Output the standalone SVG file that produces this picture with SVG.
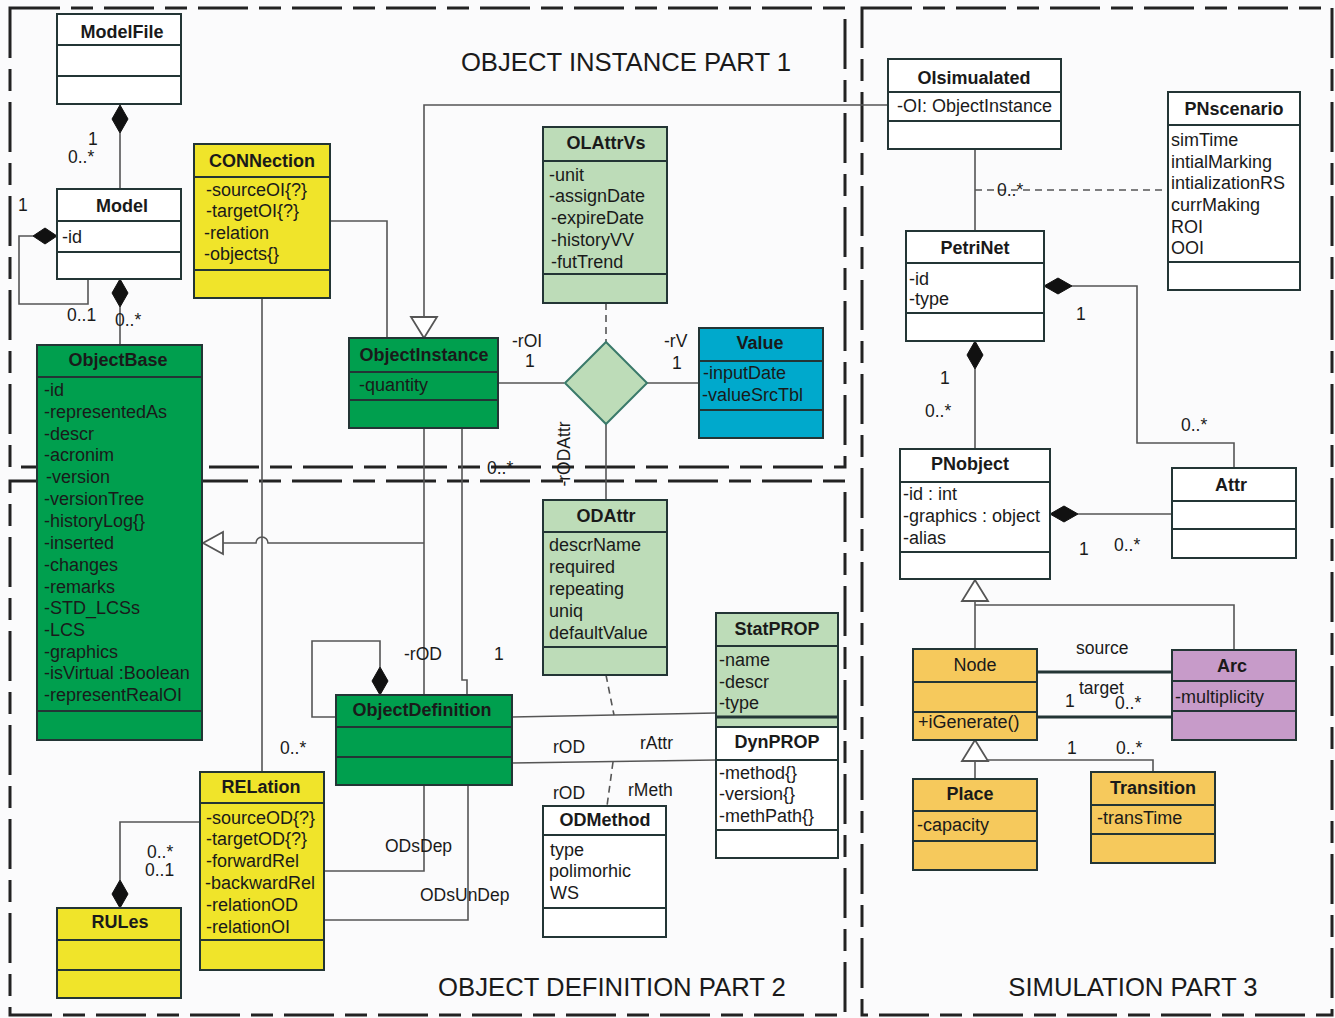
<svg xmlns="http://www.w3.org/2000/svg" width="1335" height="1018" viewBox="0 0 1335 1018">
<style>
text{font-family:"Liberation Sans",Arial,sans-serif;fill:#1a1a1a}
.h{font-size:18px;font-weight:bold;text-anchor:middle}
.hn{font-size:18px;text-anchor:middle}
.a{font-size:18px}
.l{font-size:17.5px}
.t{font-size:25.7px;text-anchor:middle}
.box{stroke:#233535;stroke-width:2}
.sep{stroke:#233535;stroke-width:2}
.c{fill:none;stroke:#555;stroke-width:1.6}
.d{fill:none;stroke:#555;stroke-width:1.6;stroke-dasharray:7 5}
.fr{fill:none;stroke:#222;stroke-width:3;stroke-dasharray:50 11 22 11}
.dia{fill:#111;stroke:#111;stroke-width:1}
.tri{fill:#fff;stroke:#555;stroke-width:1.8}
.w{fill:#fff}.dg{fill:#009f4e}.lg{fill:#bddcb8}.y{fill:#f0e42a}.cy{fill:#00a9cc}.o{fill:#f6c95c}.p{fill:#c79bc9}
</style>
<rect width="1335" height="1018" fill="#fbfbfc"/>
<g id="frames">
<rect class="fr" x="10" y="8" width="835" height="459"/>
<rect class="fr" x="10" y="481" width="835" height="534"/>
<rect class="fr" x="862" y="8" width="470" height="1007"/>
<text class="t" x="626" y="71">OBJECT INSTANCE PART 1</text>
<text class="t" x="612" y="996">OBJECT DEFINITION PART 2</text>
<text class="t" x="1133" y="996">SIMULATION PART 3</text>
</g>
<g id="connectors">
<path class="c" d="M120 133V189"/>
<path class="dia" d="M120 105l8 14l-8 14l-8 -14z"/>
<path class="c" d="M33 236H19V304H88V279"/>
<path class="dia" d="M57 236l-12 -8l-12 8l12 8z"/>
<path class="c" d="M120 307V345"/>
<path class="dia" d="M120 279l8 14l-8 14l-8 -14z"/>
<path class="c" d="M330 221H387V338"/>
<path class="c" d="M262 298V772"/>
<path class="c" d="M424 543H268A6 6 0 0 0 256 543H223"/>
<path class="tri" d="M203 543L223 532L223 554z"/>
<path class="c" d="M424 428V695"/>
<path class="c" d="M462 428V680H467V695"/>
<path class="c" d="M424 317V105H888"/>
<path class="tri" d="M424 338L411 317L437 317z"/>
<path class="c" d="M498 383H564"/>
<path class="c" d="M647 383H699"/>
<path class="c" d="M606 424V500"/>
<path class="d" d="M606 303V342"/>
<path d="M606 342L647 383L606 424L565 383z" fill="#bddcb8" stroke="#3a7a6a" stroke-width="2"/>
<path class="c" d="M380 667V641H312V717H336"/>
<path class="dia" d="M380 667l8 14l-8 14l-8 -14z"/>
<path class="c" d="M512 717L716 713"/>
<path class="d" d="M606 675L614 715"/>
<path class="c" d="M512 763L716 760"/>
<path class="d" d="M613 762L607 806"/>
<path class="c" d="M324 871H424V785"/>
<path class="c" d="M324 920H468V785"/>
<path class="c" d="M200 822H120V880"/>
<path class="dia" d="M120 880l8 14l-8 14l-8 -14z"/>
<path class="c" d="M975 149V231"/>
<path class="d" d="M975 190H1168"/>
<path class="c" d="M1072 286H1137V443H1234V468"/>
<path class="dia" d="M1044 286l14 -8l14 8l-14 8z"/>
<path class="c" d="M975 369V449"/>
<path class="dia" d="M975 341l8 14l-8 14l-8 -14z"/>
<path class="c" d="M1078 514H1172"/>
<path class="dia" d="M1050 514l14 -8l14 8l-14 8z"/>
<path class="c" d="M975 601V649M975 605H1234V650"/>
<path class="tri" d="M975 580L962 601L988 601z"/>
<path d="M1037 672H1172M1037 717H1172" fill="none" stroke="#233535" stroke-width="3"/>
<path class="c" d="M975 760V779M975 760H1153V772"/>
<path class="tri" d="M975 740L962 761L988 761z"/>
<text class="l" x="88" y="145">1</text>
<text class="l" x="68" y="163">0..*</text>
<text class="l" x="18" y="211">1</text>
<text class="l" x="67" y="321">0..1</text>
<text class="l" x="115" y="326">0..*</text>
<text class="l" x="512" y="347">-rOI</text>
<text class="l" x="525" y="367">1</text>
<text class="l" x="664" y="347">-rV</text>
<text class="l" x="672" y="369">1</text>
<text class="l" x="487" y="474">0..*</text>
<text class="l" text-anchor="middle" transform="translate(570 454) rotate(-90)">-rODAttr</text>
<text class="l" x="404" y="660">-rOD</text>
<text class="l" x="494" y="660">1</text>
<text class="l" x="280" y="754">0..*</text>
<text class="l" x="553" y="753">rOD</text>
<text class="l" x="640" y="749">rAttr</text>
<text class="l" x="553" y="799">rOD</text>
<text class="l" x="628" y="796">rMeth</text>
<text class="l" x="385" y="852">ODsDep</text>
<text class="l" x="420" y="901">ODsUnDep</text>
<text class="l" x="147" y="858">0..*</text>
<text class="l" x="145" y="876">0..1</text>
<text class="l" x="997" y="196">0..*</text>
<text class="l" x="1076" y="320">1</text>
<text class="l" x="1181" y="431">0..*</text>
<text class="l" x="940" y="384">1</text>
<text class="l" x="925" y="417">0..*</text>
<text class="l" x="1079" y="555">1</text>
<text class="l" x="1114" y="551">0..*</text>
<text class="l" x="1076" y="654">source</text>
<text class="l" x="1079" y="694">target</text>
<text class="l" x="1065" y="707">1</text>
<text class="l" x="1115" y="709">0..*</text>
<text class="l" x="1067" y="754">1</text>
<text class="l" x="1116" y="754">0..*</text>
</g>
<g id="ModelFile">
<rect class="box w" x="57" y="14" width="124" height="90"/>
<path class="sep" d="M57 45H181M57 76H181"/>
<text class="h" x="122" y="38">ModelFile</text>
</g>
<g id="Model">
<rect class="box w" x="57" y="189" width="124" height="90"/>
<path class="sep" d="M57 221H181M57 252H181"/>
<text class="h" x="122" y="212">Model</text>
<text class="a" x="62" y="243">-id</text>
</g>
<g id="ObjectBase">
<rect class="box dg" x="37" y="345" width="165" height="395"/>
<path class="sep" d="M37 377H202M37 711H202"/>
<text class="h" x="118" y="366">ObjectBase</text>
<text class="a" x="44" y="396">-id</text>
<text class="a" x="44" y="418">-representedAs</text>
<text class="a" x="44" y="440">-descr</text>
<text class="a" x="44" y="461">-acronim</text>
<text class="a" x="46" y="483">-version</text>
<text class="a" x="44" y="505">-versionTree</text>
<text class="a" x="44" y="527">-historyLog{}</text>
<text class="a" x="44" y="549">-inserted</text>
<text class="a" x="44" y="571">-changes</text>
<text class="a" x="44" y="593">-remarks</text>
<text class="a" x="44" y="614">-STD_LCSs</text>
<text class="a" x="44" y="636">-LCS</text>
<text class="a" x="44" y="658">-graphics</text>
<text class="a" x="44" y="679">-isVirtual :Boolean</text>
<text class="a" x="44" y="701">-representRealOI</text>
</g>
<g id="CONNection">
<rect class="box y" x="194" y="144" width="136" height="154"/>
<path class="sep" d="M194 177H330M194 270H330"/>
<text class="h" x="262" y="167">CONNection</text>
<text class="a" x="206" y="196">-sourceOI{?}</text>
<text class="a" x="206" y="217">-targetOI{?}</text>
<text class="a" x="204" y="239">-relation</text>
<text class="a" x="204" y="260">-objects{}</text>
</g>
<g id="ObjectInstance">
<rect class="box dg" x="349" y="338" width="149" height="90"/>
<path class="sep" d="M349 372H498M349 400H498"/>
<text class="h" x="424" y="361">ObjectInstance</text>
<text class="a" x="359" y="391">-quantity</text>
</g>
<g id="OLAttrVs">
<rect class="box lg" x="543" y="127" width="124" height="176"/>
<path class="sep" d="M543 161H667M543 274H667"/>
<text class="h" x="606" y="149">OLAttrVs</text>
<text class="a" x="549" y="181">-unit</text>
<text class="a" x="549" y="202">-assignDate</text>
<text class="a" x="551" y="224">-expireDate</text>
<text class="a" x="551" y="246">-historyVV</text>
<text class="a" x="551" y="268">-futTrend</text>
</g>
<g id="Value">
<rect class="box cy" x="699" y="328" width="124" height="110"/>
<path class="sep" d="M699 361H823M699 410H823"/>
<text class="h" x="760" y="349">Value</text>
<text class="a" x="703" y="379">-inputDate</text>
<text class="a" x="702" y="401">-valueSrcTbl</text>
</g>
<g id="ODAttr">
<rect class="box lg" x="543" y="500" width="124" height="175"/>
<path class="sep" d="M543 532H667M543 647H667"/>
<text class="h" x="606" y="522">ODAttr</text>
<text class="a" x="549" y="551">descrName</text>
<text class="a" x="549" y="573">required</text>
<text class="a" x="549" y="595">repeating</text>
<text class="a" x="549" y="617">uniq</text>
<text class="a" x="549" y="639">defaultValue</text>
</g>
<g id="StatPROP">
<rect class="box lg" x="716" y="613" width="122" height="114"/>
<path class="sep" d="M716 646H838"/>
<path d="M716 717H838" stroke="#233535" stroke-width="3"/>
<text class="h" x="777" y="635">StatPROP</text>
<text class="a" x="719" y="666">-name</text>
<text class="a" x="719" y="688">-descr</text>
<text class="a" x="719" y="709">-type</text>
</g>
<g id="DynPROP">
<rect class="box w" x="716" y="727" width="122" height="131"/>
<path class="sep" d="M716 760H838M716 830H838"/>
<text class="h" x="777" y="748">DynPROP</text>
<text class="a" x="719" y="779">-method{}</text>
<text class="a" x="719" y="800">-version{}</text>
<text class="a" x="719" y="822">-methPath{}</text>
</g>
<g id="ObjectDefinition">
<rect class="box dg" x="336" y="695" width="176" height="90"/>
<path class="sep" d="M336 727H512M336 757H512"/>
<text class="h" x="422" y="716">ObjectDefinition</text>
</g>
<g id="ODMethod">
<rect class="box w" x="543" y="806" width="123" height="131"/>
<path class="sep" d="M543 835H666M543 908H666"/>
<text class="h" x="605" y="826">ODMethod</text>
<text class="a" x="550" y="856">type</text>
<text class="a" x="549" y="877">polimorhic</text>
<text class="a" x="550" y="899">WS</text>
</g>
<g id="RElation">
<rect class="box y" x="200" y="772" width="124" height="198"/>
<path class="sep" d="M200 803H324M200 940H324"/>
<text class="h" x="261" y="793">RELation</text>
<text class="a" x="206" y="824">-sourceOD{?}</text>
<text class="a" x="206" y="845">-targetOD{?}</text>
<text class="a" x="206" y="867">-forwardRel</text>
<text class="a" x="205" y="889">-backwardRel</text>
<text class="a" x="206" y="911">-relationOD</text>
<text class="a" x="206" y="933">-relationOI</text>
</g>
<g id="RULes">
<rect class="box y" x="57" y="908" width="124" height="90"/>
<path class="sep" d="M57 940H181M57 970H181"/>
<text class="h" x="120" y="928">RULes</text>
</g>
<g id="OIsimualated">
<rect class="box w" x="888" y="59" width="173" height="90"/>
<path class="sep" d="M888 92H1061M888 121H1061"/>
<text class="h" x="974" y="84">OIsimualated</text>
<text class="a" x="897" y="112">-OI: ObjectInstance</text>
</g>
<g id="PNscenario">
<rect class="box w" x="1168" y="92" width="132" height="198"/>
<path class="sep" d="M1168 125H1300M1168 262H1300"/>
<text class="h" x="1234" y="115">PNscenario</text>
<text class="a" x="1171" y="146">simTime</text>
<text class="a" x="1171" y="168">intialMarking</text>
<text class="a" x="1171" y="189">intializationRS</text>
<text class="a" x="1171" y="211">currMaking</text>
<text class="a" x="1171" y="233">ROI</text>
<text class="a" x="1171" y="254">OOI</text>
</g>
<g id="PetriNet">
<rect class="box w" x="906" y="231" width="138" height="110"/>
<path class="sep" d="M906 263H1044M906 313H1044"/>
<text class="h" x="975" y="254">PetriNet</text>
<text class="a" x="909" y="285">-id</text>
<text class="a" x="909" y="305">-type</text>
</g>
<g id="PNobject">
<rect class="box w" x="900" y="449" width="150" height="130"/>
<path class="sep" d="M900 482H1050M900 552H1050"/>
<text class="h" x="970" y="470">PNobject</text>
<text class="a" x="903" y="500">-id : int</text>
<text class="a" x="903" y="522">-graphics : object</text>
<text class="a" x="903" y="544">-alias</text>
</g>
<g id="Attr">
<rect class="box w" x="1172" y="468" width="124" height="90"/>
<path class="sep" d="M1172 501H1296M1172 529H1296"/>
<text class="h" x="1231" y="491">Attr</text>
</g>
<g id="Node">
<rect class="box o" x="913" y="649" width="124" height="91"/>
<path class="sep" d="M913 682H1037M913 712H1037"/>
<text class="hn" x="975" y="671">Node</text>
<text class="a" x="918" y="728">+iGenerate()</text>
</g>
<g id="Arc">
<rect class="box p" x="1172" y="650" width="124" height="90"/>
<path class="sep" d="M1172 681H1296M1172 711H1296"/>
<text class="h" x="1232" y="672">Arc</text>
<text class="a" x="1175" y="703">-multiplicity</text>
</g>
<g id="Place">
<rect class="box o" x="913" y="779" width="124" height="91"/>
<path class="sep" d="M913 811H1037M913 841H1037"/>
<text class="h" x="970" y="800">Place</text>
<text class="a" x="917" y="831">-capacity</text>
</g>
<g id="Transition">
<rect class="box o" x="1091" y="772" width="124" height="91"/>
<path class="sep" d="M1091 805H1215M1091 834H1215"/>
<text class="h" x="1153" y="794">Transition</text>
<text class="a" x="1097" y="824">-transTime</text>
</g>
</svg>
